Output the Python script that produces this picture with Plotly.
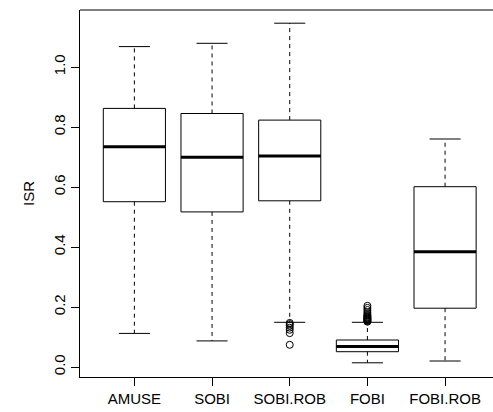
import plotly.graph_objects as go

# Summary statistics for each separation method
categories = ["AMUSE", "SOBI", "SOBI.ROB", "FOBI", "FOBI.ROB"]
lower_whisker = [0.112, 0.087, 0.149, 0.014, 0.020]
q1 = [0.551, 0.517, 0.554, 0.051, 0.196]
median = [0.734, 0.699, 0.703, 0.068, 0.384]
q3 = [0.862, 0.845, 0.823, 0.090, 0.601]
upper_whisker = [1.068, 1.079, 1.146, 0.149, 0.760]

# Points beyond the whiskers
sobi_rob_outliers = [0.147, 0.143, 0.138, 0.131, 0.124, 0.113, 0.074]
fobi_outliers = [0.151, 0.153, 0.155, 0.157, 0.159, 0.161, 0.163, 0.165,
                 0.167, 0.170, 0.173, 0.177, 0.183, 0.190, 0.197, 0.204]
outliers = {"SOBI.ROB": sobi_rob_outliers, "FOBI": fobi_outliers}

y_ticks = [0.0, 0.2, 0.4, 0.6, 0.8, 1.0]

BOX_HALF = 0.4
CAP_HALF = 0.2
INK = "black"

box_x, box_y = [], []
med_x, med_y = [], []
wh_x, wh_y = [], []
cap_x, cap_y = [], []
out_x, out_y = [], []

for i, name in enumerate(categories):
    pos = i + 1
    left, right = pos - BOX_HALF, pos + BOX_HALF
    box_x += [left, right, right, left, left, None]
    box_y += [q1[i], q1[i], q3[i], q3[i], q1[i], None]
    med_x += [left, right, None]
    med_y += [median[i], median[i], None]
    wh_x += [pos, pos, None, pos, pos, None]
    wh_y += [q3[i], upper_whisker[i], None, q1[i], lower_whisker[i], None]
    cap_x += [pos - CAP_HALF, pos + CAP_HALF, None, pos - CAP_HALF, pos + CAP_HALF, None]
    cap_y += [upper_whisker[i], upper_whisker[i], None, lower_whisker[i], lower_whisker[i], None]
    for v in outliers.get(name, []):
        out_x.append(pos)
        out_y.append(v)

fig = go.Figure()
fig.add_trace(go.Scatter(x=wh_x, y=wh_y, mode="lines",
                         line=dict(color=INK, width=1, dash="4px,4px")))
fig.add_trace(go.Scatter(x=cap_x, y=cap_y, mode="lines",
                         line=dict(color=INK, width=1)))
fig.add_trace(go.Scatter(x=box_x, y=box_y, mode="lines",
                         line=dict(color=INK, width=1)))
fig.add_trace(go.Scatter(x=med_x, y=med_y, mode="lines",
                         line=dict(color=INK, width=3)))
fig.add_trace(go.Scatter(x=out_x, y=out_y, mode="markers",
                         marker=dict(symbol="circle-open", size=7,
                                     color=INK, line=dict(width=1))))

font = dict(family="Liberation Sans, Arial, sans-serif", size=15, color="black")

fig.update_layout(
    width=493, height=412,
    margin=dict(l=80, r=0, t=10, b=35),
    paper_bgcolor="white", plot_bgcolor="white",
    showlegend=False,
    font=font,
    xaxis=dict(
        range=[0.3, 5.617], tickvals=[1, 2, 3, 4, 5], ticktext=categories,
        showgrid=False, zeroline=False, showline=True, mirror=False,
        linecolor=INK, linewidth=1, ticks="outside", ticklen=8,
        tickcolor=INK, tickwidth=1,
    ),
    yaxis=dict(
        range=[-0.0333, 1.19], tickvals=y_ticks,
        ticktext=[f"{v:.1f}" for v in y_ticks],
        showgrid=False, zeroline=False, showline=True, mirror=False,
        linecolor=INK, linewidth=1, ticks="outside", ticklen=8,
        tickcolor=INK, tickwidth=1, tickangle=-90,
        title=dict(text="ISR", font=font, standoff=12),
    ),
    # top border of the plotting frame
    shapes=[dict(type="line", xref="paper", yref="paper", x0=0, x1=1,
                 y0=1, y1=1, line=dict(color=INK, width=1))],
)

fig.write_html("out.html")
